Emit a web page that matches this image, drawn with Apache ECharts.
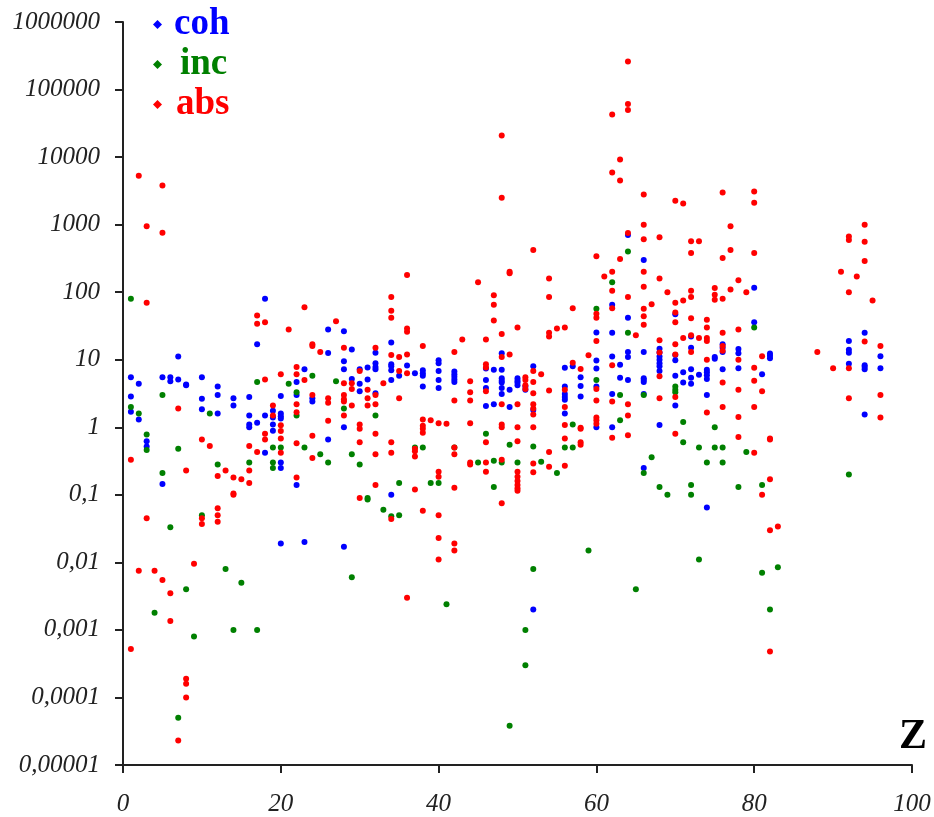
<!DOCTYPE html>
<html><head><meta charset="utf-8">
<style>html,body{margin:0;padding:0;background:#fff}#c{width:934px;height:817px}</style>
<script src="https://cdn.jsdelivr.net/npm/echarts@6/dist/echarts.min.js"></script>
</head><body><div id="c"></div>
<script>
const yTickLabels = ['0,00001','0,0001','0,001','0,01','0,1','1','10','100','1000','10000','100000','1000000'];
const xTickLabels = ['0','20','40','60','80','100'];
const legendNames = ['coh','inc','abs'];
const coh = [
[1,5.5],[1,2.85],[1,1.7],[2,4.4],[2,1.3],[3,0.62],[3,0.52],[5,5.5],[5,0.144],[6,5.5],[6,4.8],[7,11.2],[7,5.1],[8,4.3],[8,4.2],
[10,5.5],[10,2.65],[10,1.85],[12,4],[12,3],[12,1.6],[14,2.7],[14,2.1],[16,2.8],[16,1.5],[16,1.1],[16,1],[17,1.17],[17,17],[18,80],[18,1.5],[18,0.42],
[19,1.75],[19,1.4],[19,1.1],[19,0.89],[20,2.9],[20,1.6],[20,1.45],[20,1.35],[20,0.3],[20,0.25],[20,0.019],[22,4.7],[22,3],[22,0.14],[23,7.2],[23,0.02],[24,2.7],[24,2.4],
[26,28],[26,12.6],[26,0.66],[28,26.5],[28,9.5],[28,7.2],[28,1],[28,0.017],[29,14.2],[29,5.2],[30,7.2],[30,4.4],[30,3.4],[31,7.7],[31,5.1],
[32,12.7],[32,8.9],[32,7.8],[32,7.2],[32,3.2],[34,18],[34,8.6],[34,8],[34,7],[34,5],[34,0.1],[35,5.8],[36,8.2],[37,6.3],[38,7],[38,6.3],[38,5.8],[38,4],
[40,9.8],[40,8.9],[40,6.8],[40,5],[40,3.8],[42,6.7],[42,6.1],[42,5.6],[42,5.1],[42,4.7],[46,7.4],[46,5],[46,3.8],[46,2.07],[47,7.1],[47,2.2],
[48,12.5],[48,7.1],[48,5.3],[48,4.9],[48,4.6],[48,3.8],[48,3.1],[49,3.6],[49,2],[50,5.3],[50,4.9],[50,4.6],[50,4.2],[51,4],[51,3.6],[52,8],[52,1.8],[52,0.002],
[56,7.6],[56,4],[56,3.1],[56,2.8],[56,2.55],[56,1.6],[57,8],[58,5.5],[58,4.1],[58,2.85],[60,25.4],[60,9.7],[60,7.4],[60,4],[60,1],
[62,65],[62,25],[62,11.2],[62,3.1],[62,1],[63,8.4],[63,5.4],[64,700],[64,42],[64,13],[64,11],[64,5],[66,300],[66,13],[66,5.3],[66,5],[66,4.7],[66,3.1],[66,0.25],
[68,14.5],[68,12.8],[68,11.2],[68,10],[68,8.9],[68,8],[68,6.8],[68,1.08],[70,47],[70,11.7],[70,9.8],[70,5.8],[70,2.1],[71,6.5],[71,4.6],[72,22],[72,15],[72,7.2],[72,5.4],[72,4.4],[73,6],
[74,7.1],[74,6.5],[74,5.9],[74,5.2],[74,3],[74,0.065],[75,11],[75,10.3],[76,17],[76,15],[76,13],[76,7.2],[78,14.4],[78,12.5],[78,7.5],[80,116],[80,36],[81,6.1],[82,12.4],[82,11.5],[82,10.5],
[92,19],[92,14],[92,12.7],[92,8.7],[94,25],[94,8.3],[94,7.8],[94,7.2],[94,1.55],[96,11.3],[96,7.5]
];
const inc = [
[1,80],[1,2],[2,1.6],[3,0.78],[3,0.46],[4,0.0018],[5,3],[5,0.21],[6,0.033],[7,0.48],[7,0.00005],[8,0.004],[9,0.0008],[10,0.05],[11,1.6],[12,0.28],[13,0.008],[14,0.001],[15,0.005],[16,0.3],[17,4.7],[17,0.001],
[19,0.5],[19,0.3],[19,0.25],[20,0.5],[21,4.4],[22,3.3],[22,1.5],[23,0.5],[24,5.8],[25,0.4],[26,0.3],[27,4.8],[28,1.9],[29,0.4],[29,0.006],[30,0.28],[31,0.09],[31,0.085],[32,1.5],[33,0.06],[34,0.048],[35,0.15],[35,0.05],
[37,0.5],[38,0.5],[39,0.15],[40,0.15],[41,0.0024],[42,0.5],[45,0.3],[46,0.8],[47,0.32],[47,0.13],[48,0.3],[49,0.55],[49,0.000038],[50,0.3],[51,0.001],[51,0.0003],[52,0.52],[52,0.008],[53,0.31],[55,0.21],[56,0.5],[57,0.5],[57,1.1],[59,0.015],
[60,57],[60,5],[62,140],[63,3],[63,1.27],[64,400],[64,25],[65,0.004],[66,3],[66,0.21],[67,0.36],[68,0.13],[69,0.1],[70,4],[70,3.6],[70,3.3],[71,1.2],[71,0.6],[72,0.14],[72,0.1],[73,0.5],[73,0.011],[74,0.3],[75,1],[75,0.5],[76,0.5],[76,0.3],[78,0.13],[79,0.43],[80,30],[81,0.14],[81,0.007],[82,0.002],[83,0.0085],[92,0.2]
];
const abs = [
[1,0.33],[1,0.00052],[2,5300],[2,0.0075],[3,950],[3,70],[3,0.045],[4,0.0075],[5,3800],[5,760],[5,0.0055],[6,0.0035],[6,0.00136],[7,1.9],[7,0.000023],[8,0.23],[8,0.00019],[8,0.00016],[8,0.0001],[9,0.0095],
[10,0.66],[10,0.045],[10,0.037],[11,0.53],[12,0.19],[12,0.063],[12,0.05],[12,0.04],[13,0.23],[14,0.18],[14,0.105],[14,0.1],[15,0.17],[16,0.53],[16,0.23],[16,0.15],[17,45],[17,34],[17,0.43],[18,36],[18,5.1],[18,0.8],[18,0.66],
[19,2.1],[19,1.5],[20,6.1],[20,1.07],[20,0.88],[20,0.68],[20,0.42],[21,28],[22,7.8],[22,6.1],[22,2.2],[22,1.67],[22,0.58],[22,0.18],[23,60],[23,5],[24,17],[24,16],[24,3],[24,0.75],[24,0.35],[25,13],[26,2.7],[26,2.3],[26,1.25],[27,37],
[28,15],[28,4.5],[28,3],[28,2.6],[28,2.4],[28,1.5],[29,4.5],[29,3.7],[29,2.1],[30,6.8],[30,1.1],[30,0.95],[30,0.6],[30,0.09],[31,3.6],[31,2.7],[31,2.1],[32,15],[32,3],[32,2.2],[32,0.8],[32,0.4],[32,0.14],[33,4.5],
[34,85],[34,53],[34,42],[34,11.7],[34,0.6],[34,0.42],[34,0.044],[35,11],[35,6.8],[35,2.7],[36,180],[36,29],[36,26],[36,11.9],[36,6.3],[36,0.003],[37,0.48],[37,0.44],[37,0.37],[37,0.12],[38,16],[38,1.3],[38,1.05],[38,0.95],[38,0.83],[38,0.058],[39,1.27],
[40,1.15],[40,0.22],[40,0.185],[40,0.05],[40,0.023],[40,0.011],[41,1.13],[42,13],[42,2.5],[42,0.5],[42,0.4],[42,0.127],[42,0.019],[42,0.015],[43,20],[44,4.8],[44,3.3],[44,2.5],[44,1.15],[44,0.3],[44,0.28],[45,140],[46,20],[46,8.6],[46,7.7],[46,3.4],[46,0.6],[46,0.3],[46,0.22],
[47,90],[47,65],[47,38],[48,20800],[48,2500],[48,24],[48,11],[48,2.2],[48,1.1],[48,1],[48,0.33],[48,0.075],[49,200],[49,190],[49,12],[50,30],[50,2.2],[50,1],[50,0.62],[50,0.22],[50,0.185],[50,0.16],[50,0.14],[50,0.125],[50,0.115],[51,5.5],[51,5],[51,4.2],[51,3.7],
[52,420],[52,6.8],[52,4.7],[52,3.2],[52,2.2],[52,1.9],[52,1.55],[52,1],[52,0.29],[52,0.215],[53,6.1],[54,160],[54,85],[54,25],[54,22],[54,3.5],[54,0.43],[54,0.26],[55,29],[56,30],[56,3.6],[56,2],[56,1.08],[56,0.68],[56,0.27],[57,58],[57,9],[58,7.3],[58,0.98],[58,0.95],[58,0.6],[58,0.55],[59,11.6],
[60,340],[60,48],[60,42],[60,19],[60,3.7],[60,2.5],[60,1.4],[60,1.27],[60,1.13],[61,170],[62,42600],[62,5900],[62,200],[62,105],[62,58],[62,8.3],[62,2.4],[62,0.7],[63,9200],[63,4500],[63,310],[64,260000],[64,61000],[64,50000],[64,750],[64,85],[64,2.2],[64,1.5],[64,0.76],[65,23],
[66,2800],[66,1000],[66,610],[66,200],[66,120],[66,57],[66,44],[66,33],[67,66],[68,650],[68,160],[68,19.5],[68,12.8],[68,5.7],[68,2.7],[69,100],[70,2250],[70,70],[70,50],[70,36],[70,17],[70,12],[70,2.8],[70,0.8],[71,2050],[71,75],[71,21],
[72,570],[72,380],[72,105],[72,85],[72,41],[72,23],[72,13],[73,570],[73,21],[74,39],[74,30],[74,21],[74,19],[74,10],[74,1.66],[75,115],[75,92],[75,77],[76,3000],[76,320],[76,80],[76,25],[76,16],[76,13.6],[76,4.6],[76,2],[77,950],[77,420],[77,110],
[78,150],[78,28],[78,10],[78,3.6],[78,1.42],[78,0.72],[79,100],[80,3100],[80,2100],[80,380],[80,7.6],[80,4.9],[80,2],[80,0.42],[81,11.3],[81,3.4],[81,0.1],[82,0.68],[82,0.66],[82,0.17],[82,0.03],[82,0.00048],[83,0.034],
[88,13],[90,7.5],[91,200],[92,670],[92,590],[92,100],[92,7.5],[92,2.7],[93,170],[94,1000],[94,560],[94,290],[94,18.6],[95,75],[96,16],[96,3],[96,1.4]
];
const serif = '"Liberation Serif", serif';
const chart = echarts.init(document.getElementById('c'), null, {renderer:'canvas'});
const mkSeries = (name, data, color) => ({name, type:'scatter', data, symbol:'circle', symbolSize:6, itemStyle:{color, opacity:1}, silent:true, animation:false});
const mkLegend = (name, left, top, color, pad) => ({show:true, data:[{name, icon:'diamond'}], left, top, orient:'horizontal', padding:0, itemWidth:9, itemHeight:9, itemGap:0, selectedMode:false,
  textStyle:{color, fontFamily:serif, fontWeight:'bold', fontSize:37, padding:[6,0,0,pad]}});
chart.setOption({
  animation:false, backgroundColor:'#fff',
  grid:{left:123, right:22, top:22, bottom:52, containLabel:false},
  legend:[mkLegend(legendNames[0],153,6,'#0000ff',7),mkLegend(legendNames[1],153,46,'#008000',13),mkLegend(legendNames[2],153,86,'#ff0000',9)],
  xAxis:{type:'value', min:0, max:100, interval:20, splitLine:{show:false},
    axisLine:{lineStyle:{color:'#222', width:2}}, axisTick:{length:8, lineStyle:{color:'#222', width:2}},
    axisLabel:{margin:27, fontFamily:serif, fontStyle:'italic', fontSize:25, color:'#222', formatter:v=>xTickLabels[Math.round(v/20)]}},
  yAxis:{type:'log', logBase:10, min:1e-5, max:1e6, interval:1, splitNumber:11, splitLine:{show:false}, minorTick:{show:false},
    axisLine:{onZero:false, lineStyle:{color:'#222', width:2}}, axisTick:{length:8, lineStyle:{color:'#222', width:2}},
    axisLabel:{margin:23, showMinLabel:true, showMaxLabel:true, hideOverlap:false, interval:0, fontFamily:serif, fontStyle:'italic', fontSize:25, color:'#222', formatter:v=>yTickLabels[Math.round(Math.log10(v))+5]}},
  series:[mkSeries(legendNames[0],coh,'#0000ff'),mkSeries(legendNames[1],inc,'#008000'),mkSeries(legendNames[2],abs,'#ff0000')],
  graphic:[{type:'text', left:899, top:716, style:{text:'Z', fontFamily:serif, fontWeight:'bold', fontSize:42, fill:'#000'}}]
});
</script></body></html>
